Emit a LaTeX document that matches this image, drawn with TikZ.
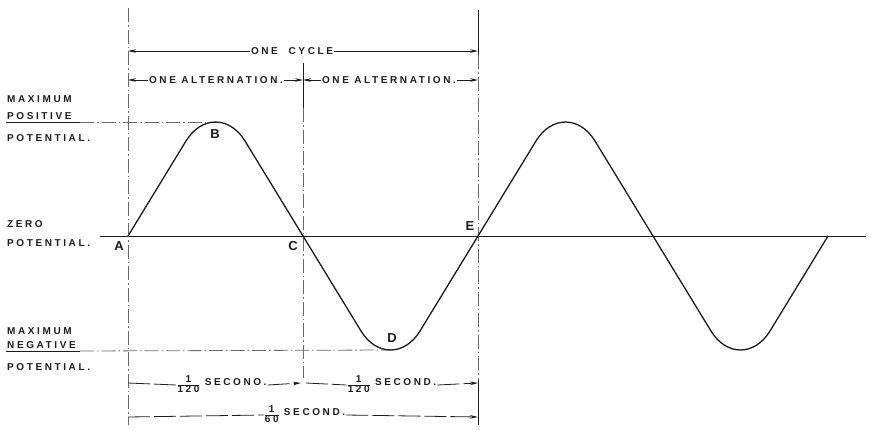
\documentclass[tikz,border=0pt]{standalone}
\usepackage{amsmath}
\usepackage{fontspec}
\setsansfont{Liberation Sans}
\newfontfamily\lettering[LetterSpace=26]{Liberation Sans}
\usetikzlibrary{arrows.meta,calc}
\definecolor{WaveInk}{HTML}{1C1C1C}
\definecolor{GuideInk}{HTML}{6A6A6A}
\newcommand\secfrac[2]{\raisebox{-0.3ex}{\renewcommand\arraystretch{0.72}\setlength\arrayrulewidth{0.7pt}%
  \begin{tabular}{@{}c@{}}\fontsize{10}{9}\selectfont #1\\\hline\fontsize{10}{9}\selectfont #2\end{tabular}}}

\begin{document}
\begin{tikzpicture}[x=1pt,y=-1pt,
  wave/.style={WaveInk,line width=1.3pt,line join=round},
  axis/.style={WaveInk,line width=1pt},
  guide/.style={GuideInk,line width=0.8pt,dash pattern=on 14pt off 3pt on 1.5pt off 3pt},
  tick/.style={WaveInk,line width=0.9pt},
  span/.style={WaveInk,line width=0.8pt},
  gap/.style={WaveInk,line width=0.8pt,dash pattern=on 22pt off 4pt},
  tip/.style={-{Stealth[length=8pt,width=3.6pt]}},
  lab/.style={font=\lettering\bfseries\fontsize{10}{11}\selectfont,text=WaveInk,inner sep=1pt},
  side/.style={lab,anchor=base west},
  pt/.style={font=\sffamily\bfseries\fontsize{13}{14}\selectfont,text=WaveInk,inner sep=0pt}]
\useasboundingbox (0,0) rectangle (871,429);
% points on the wave
\coordinate (A) at (128,236);
\coordinate (B) at (215.5,122);
\coordinate (C) at (303,236);
\coordinate (D) at (390.5,350);
\coordinate (E) at (478,236);
% zero line and guides
\coordinate (z0) at (100,236);
\coordinate (z1) at (866,236);
\draw[axis] (z0)--(z1);
\draw[guide] (128,8)--(128,425);
\draw[guide] (303,108)--(303,378);
\draw[tick] (303,63)--(303,108);
\draw[guide] (478,55)--(478,380);
\draw[tick] (478,10)--(478,55);
\draw[tick] (478,380)--(478,425);
\coordinate (posL) at (80,122);
\coordinate (negL) at (80,351);
\draw[tick,line width=0.7pt] (6,122)--(posL);
\draw[tick,line width=0.7pt] (6,351)--(negL);
\draw[guide] (posL)--(B);
\draw[guide] (negL)--(D);
% the wave, one half at a time
\draw[wave] (A) \foreach \s in {-1,1,-1,1}{
  -- ++(58,\s*95) .. controls +(15.4,\s*25.3) and +(-15.4,\s*25.3) .. ++(59,0) -- ++(58,-\s*95)};
% point labels
\node[pt] (labA) at (119,246) {A};
\node[pt] (labB) at (215,134) {B};
\node[pt] (labC) at (293,246) {C};
\node[pt] (labD) at (392,338) {D};
\node[pt] (labE) at (470,226) {E};
% side texts
\foreach \y/\txt in {102/MAXIMUM,119/POSITIVE,141/POTENTIAL.,227/ZERO,246/POTENTIAL.,334/MAXIMUM,348/NEGATIVE,370/POTENTIAL.}{
  \node[side] at (6,\y) {\txt};}
% cycle and alternations
\coordinate (cL) at (128,51);
\coordinate (cR) at (478,51);
\node[lab] (cyc) at (292,51) {ONE\ \ CYCLE};
\draw[span,tip] (cyc.west)--(cL);
\draw[span,tip] (cyc.east)--(cR);
\coordinate (aL) at (128,80);
\coordinate (aM) at (303,80);
\coordinate (aR) at (478,80);
\node[lab] (alt1) at (216,80) {ONE ALTERNATION.};
\node[lab] (alt2) at (389,80) {ONE ALTERNATION.};
\draw[span,tip] (alt1.west)--(aL);
\draw[span,tip] (alt1.east)--(aM);
\draw[span,tip] (alt2.west)--(aM);
\draw[span,tip] (alt2.east)--(aR);
% times
\coordinate (hL) at (128,383);
\coordinate (hM) at (301,383);
\coordinate (hN) at (306,383);
\coordinate (hR) at (478,383);
\node[lab] (half1) at (222,385) {\secfrac{1}{120} SECONO.};
\node[lab] (half2) at (392,385) {\secfrac{1}{120} SECOND.};
\draw[gap] (hL)--(half1.west);
\draw[gap,tip] (half1.east)--(hM);
\draw[gap] (hN)--(half2.west);
\draw[gap,tip] (half2.east)--(hR);
\coordinate (fL) at (128,417);
\coordinate (fR) at (478,417);
\node[lab] (full) at (305,415) {\secfrac{1}{60} SECOND.};
\draw[gap] (fL)--(full.west);
\draw[gap,tip] (full.east)--(fR);
\end{tikzpicture}
\end{document}
